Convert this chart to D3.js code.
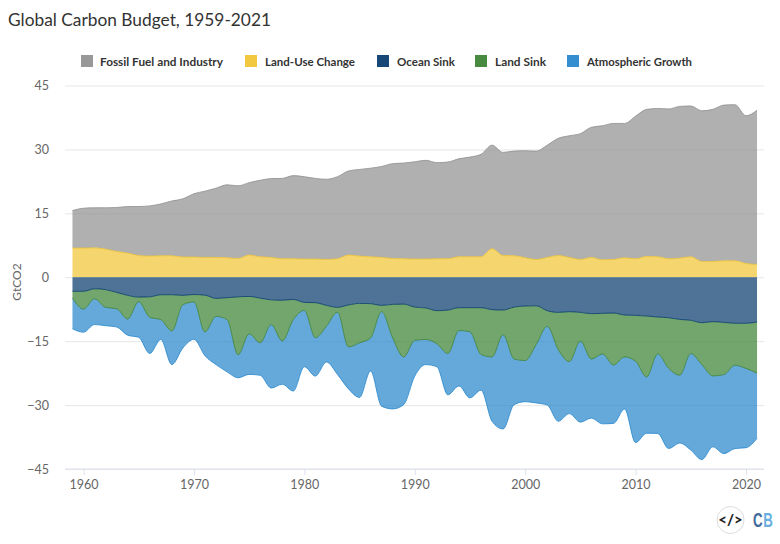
<!DOCTYPE html>
<html>
<head>
<meta charset="utf-8">
<script src="https://cdn.jsdelivr.net/npm/d3@7"></script>
<style>
  html, body { margin: 0; padding: 0; background: #fff; }
  svg { display: block; }
  text { font-family: Lato, "Noto Sans", sans-serif; }
</style>
</head>
<body>
<div id="chart"></div>
<script>
const width = 780;
const height = 544;

const firstYear = 1959;
const lastYear = 2021;

// GtCO2 per year
const fossil = [8.8,9.36,9.4,9.7,10.31,10.94,11.5,11.79,12.16,12.86,13.67,14.87,15.55,16.25,17.13,17.05,17,17.96,18.5,18.86,19.51,19.34,18.94,18.82,19.26,19.75,20.34,20.8,21.35,22.26,22.46,22.84,23.18,22.56,22.71,23,23.4,24.05,24.32,24.2,24.59,25.13,25.43,26.37,27.5,28.57,29.53,30.57,31.46,31.93,31.54,33.48,34.53,34.8,35.18,35.62,35.4,35.36,35.7,36.55,36.65,34.67,36.2];
const landUse = [6.84,6.84,6.9,6.6,6.05,5.66,5.1,4.96,5.04,5.04,4.73,4.73,4.65,4.65,4.57,4.4,5.2,4.8,4.65,4.34,4.34,4.26,4.26,4.18,4.34,5.2,4.96,4.8,4.65,4.4,4.34,4.26,4.26,4.34,4.34,4.8,4.8,4.8,6.68,5.1,5.04,4.57,4.17,4.63,5.1,4.63,4.17,4.63,4.09,4.17,4.56,4.32,4.87,4.8,4.32,4.48,4.8,3.7,3.7,3.85,3.85,3.23,3];
const oceanSink = [3.3,3.3,2.7,2.9,3.55,4.25,4.65,4.6,4.1,4.1,4.25,4.05,4.2,4.96,4.8,4.6,4.5,4.9,5.3,5.4,5.2,5.9,5.97,6.6,7.06,6.5,6.13,6.2,6.6,6.36,6.3,7,7.2,7.85,7.7,7.14,7.14,7.14,7.6,7.7,7,6.75,6.7,7.85,8.24,8.08,8.24,8.55,8.47,8.4,8.86,8.94,9.1,9.33,9.5,9.9,10.1,10.66,10.42,10.6,10.8,10.8,10.5];
const landSink = [1.58,4.16,2.34,4.16,3.83,5.55,1.09,4.8,5.85,8.5,2.19,1.75,8.64,4.21,5.15,13.6,8.8,10.5,5.8,9.55,4.75,1.87,8.23,4.9,1.14,9.85,9.27,8.05,1.48,7.89,12.4,7.8,7.4,7.75,10.2,5.36,5.66,11.01,11.1,5.8,12.2,12.8,9.1,3.65,8.76,11.72,6.76,10.65,9.53,12.2,9.84,10.76,14.3,8.67,11.9,13.1,7.8,9.84,12.73,12.25,9.85,10.6,12];
const atmGrowth = [7.22,5.44,6.06,4.3,4.29,3.8,8.36,8.5,4.65,7.9,10.16,8.76,5.56,11.33,12.25,5.4,9.5,7.6,14.9,10.15,16.75,13.23,9,8.4,14.6,9.85,12.8,7.75,22.2,16.65,11.2,8.4,5.9,5.4,9.7,13,15.5,8.35,15.1,22.1,10.7,9.65,13.7,18.5,16.8,12.2,19,13.86,16.4,13.7,12.2,19.1,13.2,18.65,18.8,15.9,22.65,22.3,16.65,18.55,19.55,18.6,15.3];

const yTicks = [-45, -30, -15, 0, 15, 30, 45];
const xTicks = [1960, 1970, 1980, 1990, 2000, 2010, 2020];

const seriesNames = ["Fossil Fuel and Industry", "Land-Use Change", "Ocean Sink", "Land Sink", "Atmospheric Growth"];
const seriesColors = ["#8f8f8f", "#f0c330", "#03386b", "#38802f", "#2384cc"];
const legendSwatchX = [81, 245, 377, 475, 567];
const legendTextWidth = [123, 90, 58, 51, 105];

const years = d3.range(firstYear, lastYear + 1);
const rows = years.map((year, i) => ({
    year,
    "Fossil Fuel and Industry": fossil[i],
    "Land-Use Change": landUse[i],
    "Ocean Sink": -oceanSink[i],
    "Land Sink": -landSink[i],
    "Atmospheric Growth": -atmGrowth[i]
}));

// land-use sits under fossil, sinks stack downwards
const stackUp = d3.stack().keys(["Land-Use Change", "Fossil Fuel and Industry"]).offset(d3.stackOffsetDiverging)(rows);
const stackDown = d3.stack().keys(["Ocean Sink", "Land Sink", "Atmospheric Growth"]).offset(d3.stackOffsetDiverging)(rows);
const layers = stackUp.concat(stackDown);

const x = d3.scaleLinear().domain([1960, 2020]).range([83.5, 746]);
const y = d3.scaleLinear().domain([-45, 45]).range([469, 85.5]);

const svg = d3.select("#chart").append("svg")
    .attr("width", width)
    .attr("height", height);

// title
svg.append("text")
    .attr("x", 8)
    .attr("y", 26)
    .attr("font-size", 18)
    .attr("textLength", 263)
    .attr("lengthAdjust", "spacingAndGlyphs")
    .attr("fill", "#333")
    .text("Global Carbon Budget, 1959-2021");

// legend
const legend = svg.selectAll(".legend")
    .data(seriesNames)
    .join("g")
    .attr("class", "legend")
    .attr("transform", (d, i) => `translate(${legendSwatchX[i]},55)`);

legend.append("rect")
    .attr("width", 12)
    .attr("height", 12)
    .attr("fill", (d, i) => seriesColors[i])
    .attr("fill-opacity", 0.92);

legend.append("text")
    .attr("x", (d, i) => i === 0 ? 19 : 20)
    .attr("y", 10.5)
    .attr("font-size", 12)
    .attr("font-weight", 700)
    .attr("textLength", (d, i) => legendTextWidth[i])
    .attr("lengthAdjust", "spacingAndGlyphs")
    .attr("fill", "#333")
    .text(d => d);

// y axis + grid
const yAxis = svg.append("g")
    .attr("transform", "translate(65,0)")
    .call(d3.axisLeft(y).tickValues(yTicks).tickSize(0).tickPadding(16));
yAxis.select(".domain").remove();
yAxis.selectAll("text")
    .attr("font-size", 12.5)
    .attr("fill", "#666")
    .style("font-family", "Lato, 'Noto Sans', sans-serif");
yAxis.selectAll(".tick line")
    .attr("x2", 699)
    .attr("stroke", "#e6e6e6");

svg.append("text")
    .attr("transform", "translate(21,282) rotate(-90)")
    .attr("text-anchor", "middle")
    .attr("font-size", 12)
    .attr("fill", "#666")
    .text("GtCO2");

// x axis
const xAxis = svg.append("g")
    .attr("transform", "translate(0,469)")
    .call(d3.axisBottom(x).tickValues(xTicks).tickFormat(d3.format("d")).tickSize(6).tickPadding(5));
xAxis.select(".domain").remove();
xAxis.append("line")
    .attr("x1", 65)
    .attr("x2", 764)
    .attr("stroke", "#dde1ee");
xAxis.selectAll(".tick line").attr("stroke", "#dde1ee");
xAxis.selectAll("text")
    .attr("font-size", 12.5)
    .attr("fill", "#666")
    .style("font-family", "Lato, 'Noto Sans', sans-serif");

// stacked areas
const area = d3.area()
    .x(d => x(d.data.year))
    .y0(d => y(d[0]))
    .y1(d => y(d[1]))
    .curve(d3.curveMonotoneX);

const edge = d3.line()
    .x(d => x(d.data.year))
    .y(d => y(d[1]))
    .curve(d3.curveMonotoneX);

svg.selectAll(".layer")
    .data(layers)
    .join("path")
    .attr("class", "layer")
    .attr("d", area)
    .attr("fill", d => seriesColors[seriesNames.indexOf(d.key)])
    .attr("fill-opacity", 0.7);

// darker outer edge of each band
svg.selectAll(".edge")
    .data(layers)
    .join("path")
    .attr("class", "edge")
    .attr("d", d => edge(d.map(p => (d.key === "Land-Use Change" || d.key === "Fossil Fuel and Industry") ? p : Object.assign([p[1], p[0]], { data: p.data }))))
    .attr("fill", "none")
    .attr("stroke", d => seriesColors[seriesNames.indexOf(d.key)])
    .attr("stroke-opacity", 0.8)
    .attr("stroke-width", 1);

// embed button and CB logo
const logo = svg.append("g").attr("transform", "translate(730.5,520)");
logo.append("circle")
    .attr("r", 13.5)
    .attr("fill", "#fff")
    .attr("stroke", "#ddd");
logo.append("text")
    .attr("text-anchor", "middle")
    .attr("y", 5)
    .attr("font-size", 15)
    .attr("font-weight", 900)
    .attr("fill", "#222")
    .text("</>");

svg.selectAll(".cb")
    .data(["C", "B"])
    .join("text")
    .attr("class", "cb")
    .attr("transform", (d, i) => `translate(${753 + i * 10.2},527) scale(0.95,1.5)`)
    .attr("font-size", 14)
    .attr("font-weight", 700)
    .attr("fill", (d, i) => i === 0 ? "#3f6b9b" : "#6aaee0")
    .style("font-family", "'Liberation Sans', sans-serif")
    .text(d => d);
</script>
</body>
</html>
